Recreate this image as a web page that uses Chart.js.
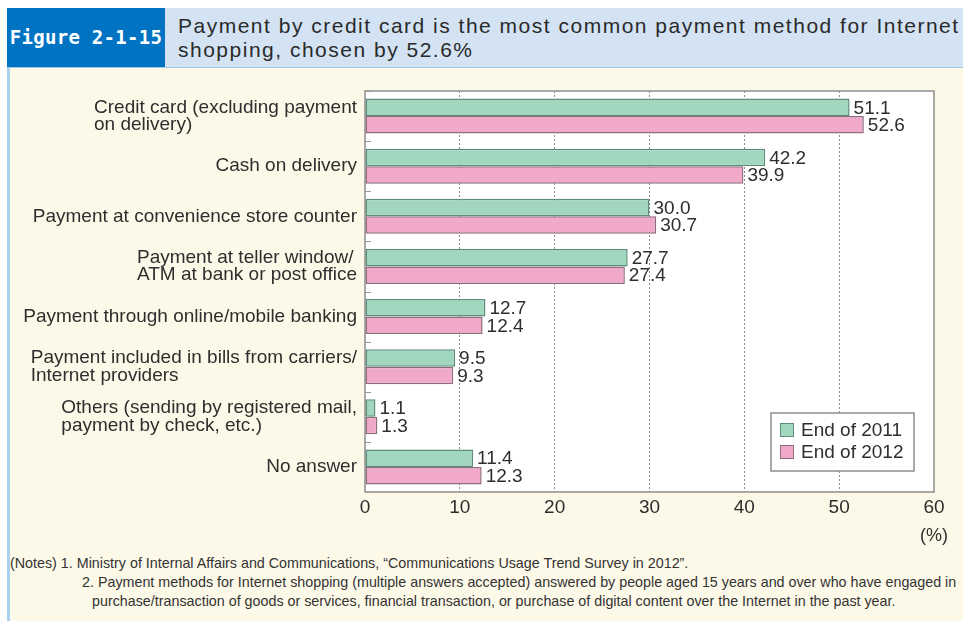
<!DOCTYPE html>
<html>
<head>
<meta charset="utf-8">
<script src="https://cdn.jsdelivr.net/npm/chart.js@4/dist/chart.umd.min.js"></script>
<style>
  html, body { margin: 0; padding: 0; }
  body { width: 963px; height: 621px; position: relative; background: #fff; overflow: hidden; font-family: "Liberation Sans", Arial, sans-serif; }
  .panel { position: absolute; left: 7px; top: 67px; width: 956px; height: 554px; background: #fdf9e8; border-left: 3px solid #a9d0ec; border-top: 1px solid #9fc4e6; box-sizing: border-box; }
  .fig-no { position: absolute; left: 7px; top: 8px; width: 158px; height: 59px; background: #0073c3; color: #fff; font: bold 19px "DejaVu Sans Mono", monospace; line-height: 59px; text-align: center; letter-spacing: 0.3px; }
  .fig-title { position: absolute; left: 165px; top: 8px; width: 798px; height: 59px; background: #d3e3f3; color: #2a2a2a; font-size: 21px; line-height: 24px; padding: 6px 0 0 13px; box-sizing: border-box; letter-spacing: 1.5px; white-space: nowrap; overflow: hidden; }
  #chartBox { position: absolute; left: 9px; top: 68px; }
  .notes { position: absolute; left: 10px; top: 554px; color: #333; font: 14.3px "Liberation Sans", sans-serif; line-height: 19px; white-space: nowrap; }
  .notes .ind { padding-left: 72px; }
  .notes .ind2 { padding-left: 82px; }
</style>
</head>
<body>
<div class="panel"></div>
<div class="fig-no">Figure 2-1-15</div>
<div class="fig-title">Payment by credit card is the most common payment method for Internet<br>shopping, chosen by 52.6%</div>
<div id="chartBox"><canvas id="chart" width="954" height="480"></canvas></div>
<div class="notes">
  <div>(Notes) 1. Ministry of Internal Affairs and Communications, “Communications Usage Trend Survey in 2012”.</div>
  <div class="ind">2. Payment methods for Internet shopping (multiple answers accepted) answered by people aged 15 years and over who have engaged in</div>
  <div class="ind2">purchase/transaction of goods or services, financial transaction, or purchase of digital content over the Internet in the past year.</div>
</div>
<script>
// payment methods, each entry is one label split into its printed lines
const methods = [
  ["Credit card (excluding payment", "on delivery)"],
  ["Cash on delivery"],
  ["Payment at convenience store counter"],
  ["Payment at teller window/", "ATM at bank or post office"],
  ["Payment through online/mobile banking"],
  ["Payment included in bills from carriers/", "Internet providers"],
  ["Others (sending by registered mail,", "payment by check, etc.)"],
  ["No answer"]
];
const end2011 = [51.1, 42.2, 30.0, 27.7, 12.7, 9.5, 1.1, 11.4];
const end2012 = [52.6, 39.9, 30.7, 27.4, 12.4, 9.3, 1.3, 12.3];
const seriesNames = ["End of 2011", "End of 2012"];
const xTicks = [0, 10, 20, 30, 40, 50, 60];

const FONT = '"Liberation Sans", Arial, sans-serif';
const TEXT = "#2e2e2e";

// category labels (left-aligned blocks, right-aligned to the axis), box, ticks
const framePlugin = {
  id: "frame",
  beforeDraw(chart) {
    const { ctx, chartArea: a } = chart;
    ctx.save();
    ctx.fillStyle = "#fff";
    ctx.fillRect(a.left, a.top, a.right - a.left, a.bottom - a.top);
    ctx.restore();
  },
  beforeDatasetsDraw(chart) {
    const { ctx, chartArea: a, scales: { y } } = chart;
    ctx.save();
    ctx.strokeStyle = "#8d8d8d";
    ctx.lineWidth = 1.5;
    ctx.strokeRect(a.left, a.top, a.right - a.left, a.bottom - a.top);
    // short ticks between categories
    ctx.lineWidth = 1;
    ctx.strokeStyle = "#999";
    const half = (y.getPixelForValue(1) - y.getPixelForValue(0)) / 2;
    for (let i = 0; i < methods.length; i++) {
      const py = Math.round(y.getPixelForValue(i) - half) + 0.5;
      ctx.beginPath();
      ctx.moveTo(a.left, py);
      ctx.lineTo(a.left + 6, py);
      ctx.stroke();
    }
    // labels
    ctx.font = "19px " + FONT;
    ctx.fillStyle = TEXT;
    ctx.textAlign = "left";
    ctx.textBaseline = "middle";
    const lh = 17.5;
    methods.forEach((lines, i) => {
      const w = Math.max(...lines.map(l => ctx.measureText(l).width));
      const x0 = a.left - 8 - w;
      const cy = y.getPixelForValue(i);
      lines.forEach((l, k) => {
        ctx.fillText(l, x0, cy + (k - (lines.length - 1) / 2) * lh);
      });
    });
    ctx.restore();
  },
  afterDatasetsDraw(chart) {
    const { ctx, chartArea: a } = chart;
    ctx.save();
    // value labels
    ctx.font = "19px " + FONT;
    ctx.fillStyle = TEXT;
    ctx.textAlign = "left";
    ctx.textBaseline = "middle";
    chart.data.datasets.forEach((ds, di) => {
      chart.getDatasetMeta(di).data.forEach((bar, i) => {
        ctx.fillText(ds.data[i].toFixed(1), bar.x + 4, bar.y + 1);
      });
    });
    // legend
    const bw = 143, bh = 58;
    const bx = a.right - 20 - bw, by = a.bottom - 21 - bh;
    ctx.fillStyle = "#fff";
    ctx.fillRect(bx, by, bw, bh);
    ctx.strokeStyle = "#8d8d8d";
    ctx.lineWidth = 1.5;
    ctx.strokeRect(bx, by, bw, bh);
    chart.data.datasets.forEach((ds, di) => {
      const cy = by + 17 + di * 22;
      ctx.fillStyle = ds.backgroundColor;
      ctx.fillRect(bx + 9, cy - 7, 14, 14);
      ctx.strokeStyle = ds.borderColor;
      ctx.lineWidth = 1;
      ctx.strokeRect(bx + 9.5, cy - 6.5, 13, 13);
      ctx.fillStyle = TEXT;
      ctx.fillText(ds.label, bx + 30, cy + 1);
    });
    ctx.restore();
  },
  afterDraw(chart) {
    const { ctx, scales: { x } } = chart;
    ctx.save();
    ctx.font = "18px " + FONT;
    ctx.fillStyle = TEXT;
    ctx.textAlign = "center";
    ctx.textBaseline = "middle";
    ctx.fillText("(%)", x.getPixelForValue(60), x.bottom + 14);
    ctx.restore();
  }
};

new Chart(document.getElementById("chart"), {
  type: "bar",
  data: {
    labels: methods,
    datasets: [
      {
        label: seriesNames[0],
        data: end2011,
        backgroundColor: "#a2d7bf",
        borderColor: "#5e8c79",
        borderWidth: 1.5,
        borderSkipped: false
      },
      {
        label: seriesNames[1],
        data: end2012,
        backgroundColor: "#f1a9ca",
        borderColor: "#8e6c7c",
        borderWidth: 1.5,
        borderSkipped: false
      }
    ]
  },
  options: {
    indexAxis: "y",
    responsive: false,
    animation: false,
    devicePixelRatio: 1,
    categoryPercentage: 0.7,
    barPercentage: 1.0,
    layout: { padding: { left: 356, top: 23, right: 29, bottom: 26 } },
    plugins: {
      legend: { display: false },
      tooltip: { enabled: false }
    },
    scales: {
      x: {
        min: 0,
        max: 60,
        afterBuildTicks: s => { s.ticks = xTicks.map(v => ({ value: v })); },
        afterFit: s => { s.height = 30; },
        ticks: {
          color: TEXT,
          font: { family: FONT, size: 19 },
          padding: 4,
          maxRotation: 0
        },
        grid: {
          drawTicks: false,
          lineWidth: 1,
          color: c => (c.tick && (c.tick.value === 0 || c.tick.value === 60)) ? "rgba(0,0,0,0)" : "#8a8a8a"
        },
        border: { display: false, dash: [2, 2] }
      },
      y: {
        afterFit: s => { s.width = 0; },
        ticks: { display: false },
        grid: { display: false, drawTicks: false },
        border: { display: false }
      }
    }
  },
  plugins: [framePlugin]
});
</script>
</body>
</html>
